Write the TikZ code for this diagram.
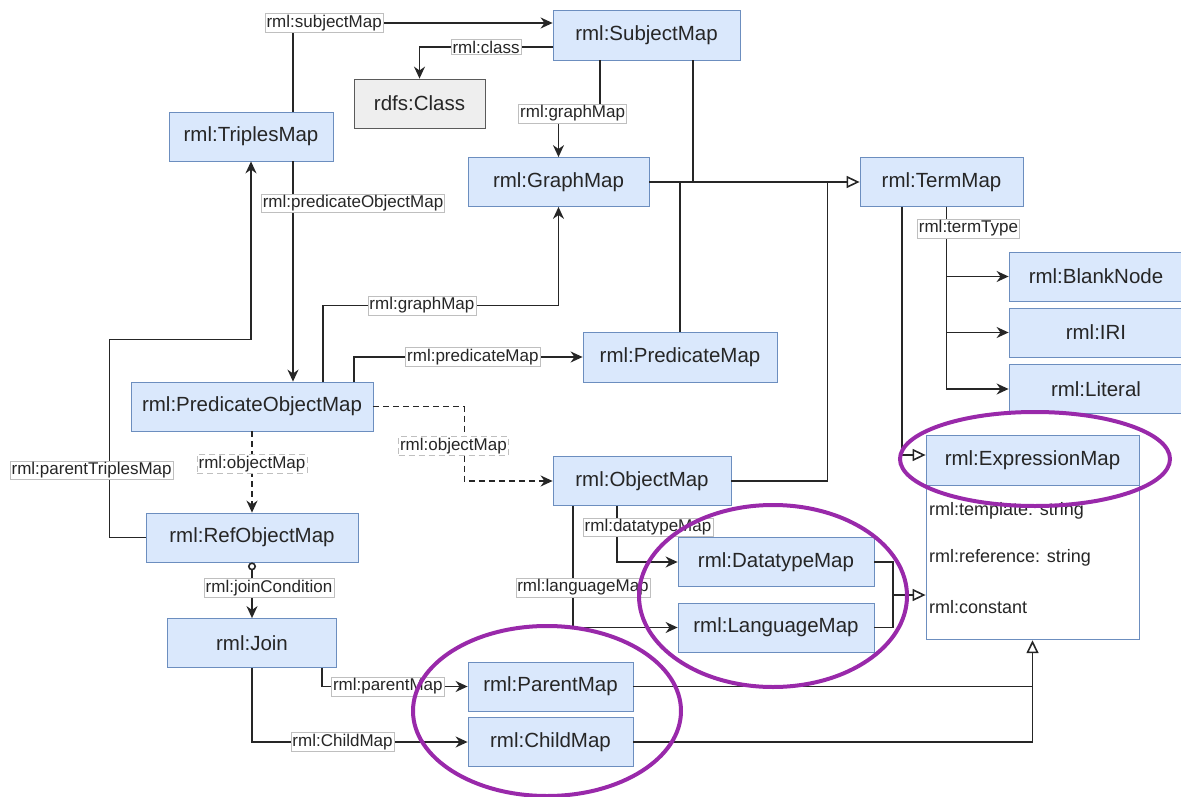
\documentclass[tikz,border=0pt]{standalone}
\usepackage{fontspec}
\setsansfont{Liberation Sans}
\usetikzlibrary{arrows.meta, positioning, calc}
\definecolor{LightBlue}{RGB}{218,232,252}
\definecolor{SteelBlue}{RGB}{108,142,191}
\definecolor{LightGray}{RGB}{238,238,238}
\definecolor{DarkGray}{RGB}{90,90,90}
\definecolor{DeepPurple}{RGB}{153,41,170}

\begin{document}
\begin{tikzpicture}[x=1pt, y=-1pt, font=\sffamily,
    clase/.style={draw=SteelBlue, fill=LightBlue, line width=0.8pt, minimum height=49pt, inner sep=0pt,
        text=black!85, font=\sffamily\fontsize{20.5}{24}\selectfont},
    gris/.style={clase, draw=DarkGray, fill=LightGray},
    etiqueta/.style={draw=black!25, fill=white, inner sep=1.5pt, line width=0.5pt, text=black!85,
        font=\sffamily\fontsize{17}{20}\selectfont},
    atributo/.style={anchor=west, inner sep=0pt, text=black!85, font=\sffamily\fontsize{18}{21}\selectfont},
    linea/.style={draw=black!85, line width=1.6pt},
    flecha/.style={linea, -{Stealth[length=12pt, width=11pt]}},
    punteada/.style={flecha, dash pattern=on 6pt off 4pt},
    union/.style={linea, {Circle[open, length=8pt, width=8pt]}-{Stealth[length=12pt, width=11pt]}},
    hereda/.style={linea, -{Triangle[open, length=13pt, width=12pt]}},
    resalte/.style={draw=DeepPurple, line width=4pt}]

\useasboundingbox (0,0) rectangle (1181,797);

% clases
\node[clase, minimum width=164pt] (tm) at (251,136.5) {rml:TriplesMap};
\node[clase, minimum width=187pt, minimum height=50pt] (sm) at (646.5,35) {rml:SubjectMap};
\node[gris, minimum width=131pt] (cls) at (419.5,103.5) {rdfs:Class};
\node[clase, minimum width=181pt] (gm) at (558.5,182) {rml:GraphMap};
\node[clase, minimum width=163pt] (term) at (941.5,182) {rml:TermMap};
\node[clase, minimum width=174pt] (blank) at (1096,276.5) {rml:BlankNode};
\node[clase, minimum width=174pt] (iri) at (1096,332.5) {rml:IRI};
\node[clase, minimum width=174pt] (lit) at (1096,389) {rml:Literal};
\node[clase, minimum width=194pt, minimum height=50pt] (pm) at (680,357) {rml:PredicateMap};
\node[clase, minimum width=242pt] (pom) at (252,406.5) {rml:PredicateObjectMap};
\node[clase, minimum width=178pt] (om) at (642,481) {rml:ObjectMap};
\node[clase, minimum width=212pt] (rom) at (252,537.5) {rml:RefObjectMap};
\node[clase, minimum width=169pt] (join) at (252,643) {rml:Join};
\node[clase, minimum width=165pt] (parent) at (550.5,686.5) {rml:ParentMap};
\node[clase, minimum width=165pt] (child) at (550.5,742) {rml:ChildMap};
\node[clase, minimum width=196pt] (dt) at (776,562) {rml:DatatypeMap};
\node[clase, minimum width=196pt] (lang) at (776,627.5) {rml:LanguageMap};

% expression map con atributos
\node[clase, minimum width=213pt, minimum height=50pt] (expr) at (1032.5,460) {rml:ExpressionMap};
\node[draw=SteelBlue, fill=white, line width=0.8pt, minimum width=213pt, minimum height=154pt,
    inner sep=0pt, anchor=north] (exprbody) at (expr.south) {};
\foreach \y/\t [count=\i] in {511/rml:template: string, 558/rml:reference: string, 607/rml:constant}{
    \node[atributo] (attr\i) at (929,\y) {\t};
}

% triples map
\draw[flecha] ([xshift=42pt]tm.north) |- node[etiqueta, pos=0.56] (lsm) {rml:subjectMap} ([yshift=12pt]sm.west);
\draw[flecha] ([xshift=42pt]tm.south) -- ([xshift=42pt]tm.south |- pom.north)
    node[etiqueta, pos=0.19, xshift=60pt] (lpom) {rml:predicateObjectMap};

% subject map
\draw[flecha] ([yshift=-12pt]sm.west) -| node[etiqueta, pos=0.25] (lcls) {rml:class} (cls.north);
\draw[flecha] ([xshift=-46.5pt]sm.south) -- ++(0,53) -| node[etiqueta, pos=0.33] (lgm1) {rml:graphMap} (gm.north);

% herencia de term map
\draw[hereda] (gm.east) -- (term.west);
\draw[linea] ([xshift=46.5pt]sm.south) -- ([xshift=46.5pt]sm.south |- gm.east);
\draw[linea] (pm.north) -- (pm.north |- gm.east);
\draw[linea] (om.east) -| ([xshift=-32pt]term.west);
\draw[hereda] ([xshift=-39.5pt]term.south) |- ([yshift=5pt]expr.west);

% term types
\foreach \n in {blank, iri, lit}{
    \draw[flecha] ([xshift=5pt]term.south) |- (\n.west);
}
\node[etiqueta] (ltt) at ($(term.south)+(27,21.5)$) {rml:termType};

% predicate object map
\draw[flecha] ([xshift=71pt]pom.north) -- ++(0,-76) -| node[etiqueta, pos=0.21] (lgm2) {rml:graphMap} (gm.south);
\draw[flecha] ([xshift=102pt]pom.north) |- node[etiqueta, pos=0.76] (lpm) {rml:predicateMap} (pm.west);
\draw[punteada] (pom.east) -- ++(91,0) |- node[etiqueta, pos=0.265, xshift=-11pt] (lom1) {rml:objectMap} (om.west);
\draw[punteada] (pom.south) -- node[etiqueta, pos=0.4] (lom2) {rml:objectMap} (rom.north);

% ref object map y join
\draw[flecha] (rom.west) -- ++(-36,0) -- ++(0,-198)
    node[etiqueta, pos=0.34, xshift=-18pt] (lptm) {rml:parentTriplesMap} -| (tm.south);
\draw[union] (rom.south) -- node[etiqueta, pos=0.46, xshift=17pt] (ljc) {rml:joinCondition} (join.north);
\draw[flecha] ([xshift=70pt]join.south) |- node[etiqueta, pos=0.726] (lpar) {rml:parentMap} (parent.west);
\draw[flecha] (join.south) |- node[etiqueta, pos=0.71] (lchi) {rml:ChildMap} (child.west);

% object map
\draw[flecha] ([xshift=-25pt]om.south) |- node[etiqueta, pos=0.19, xshift=31pt] (ldt) {rml:datatypeMap} (dt.west);
\draw[flecha] ([xshift=-69pt]om.south) |- node[etiqueta, pos=0.335, xshift=10pt] (llang) {rml:languageMap} (lang.west);

% herencia de expression map
\coordinate (jdl) at (893,595);
\draw[linea] (dt.east) -| (jdl);
\draw[linea] (lang.east) -| (jdl);
\draw[hereda] (jdl) -- (jdl -| exprbody.west);
\draw[linea] (parent.east) -- (parent.east -| exprbody.south);
\draw[hereda] (child.east) -| (exprbody.south);

% resaltar
\draw[resalte] (1035,459) ellipse [x radius=135, y radius=47];
\draw[resalte] (773,596) ellipse [x radius=134, y radius=91];
\draw[resalte] (547,711) ellipse [x radius=134, y radius=85];

\end{tikzpicture}
\end{document}
